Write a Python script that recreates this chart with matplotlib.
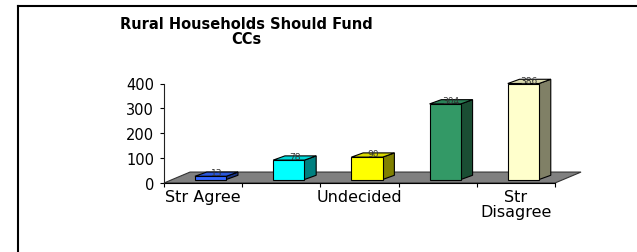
import numpy as np
import matplotlib

matplotlib.use("Agg")
import matplotlib.pyplot as plt
from matplotlib.patches import Polygon
from matplotlib.lines import Line2D

categories = ["Str Agree", "Agree", "Undecided", "Disagree", "Str Disagree"]
values = [13, 78, 90, 304, 386]
shown_labels = ["Str Agree", "", "Undecided", "", "Str\nDisagree"]
front_colors = ["#3366FF", "#00FFFF", "#FFFF00", "#339966", "#FFFFCC"]
y_ticks = [0, 100, 200, 300, 400]
title = "Rural Households Should Fund\nCCs"


def shade(color, factor):
    rgb = np.array(matplotlib.colors.to_rgb(color))
    return tuple(rgb * factor)


def draw_floor(ax, n, depth_x, depth_y):
    pts = [
        (-0.5, 0),
        (n - 0.5, 0),
        (n - 0.5 + depth_x, depth_y),
        (-0.5 + depth_x, depth_y),
    ]
    ax.add_patch(
        Polygon(pts, closed=True, facecolor="#808080", edgecolor="#333333",
                lw=0.8, clip_on=False, zorder=1)
    )


def draw_bar(ax, x, v, color, width, base, dx, dy):
    x0 = x - width / 2
    x1 = x + width / 2
    top = base + v
    front = [(x0, base), (x1, base), (x1, top), (x0, top)]
    side = [(x1, base), (x1 + dx, base + dy), (x1 + dx, top + dy), (x1, top)]
    cap = [(x0, top), (x1, top), (x1 + dx, top + dy), (x0 + dx, top + dy)]
    kw = dict(closed=True, edgecolor="black", lw=0.8, clip_on=False, zorder=3)
    ax.add_patch(Polygon(side, facecolor=shade(color, 0.5), **kw))
    ax.add_patch(Polygon(cap, facecolor=shade(color, 0.85), **kw))
    ax.add_patch(Polygon(front, facecolor=color, **kw))
    ax.text(x + dx / 2, top + dy * 0.8, str(v), ha="center", va="center",
            fontsize=6.5, color="#333333", zorder=4, clip_on=False)


fig = plt.figure(figsize=(6.37, 2.53), dpi=100)
plt.rcParams["font.family"] = ["DejaVu Sans"]

ax = fig.add_axes([164 / 637, 69 / 253, 391 / 637, 99.5 / 253])
ax.set_xlim(-0.5, len(categories) - 0.5)
ax.set_ylim(0, 400)

# floor depth and bar depth, in data units
floor_dx, floor_dy = 0.333, 44
bar_dx, bar_dy = 0.15, 17
shift_x, base_y = 0.096, 14

draw_floor(ax, len(categories), floor_dx, floor_dy)
for i, (v, c) in enumerate(zip(values, front_colors)):
    draw_bar(ax, i + shift_x, v, c, 0.40, base_y, bar_dx, bar_dy)

for side in ["top", "right"]:
    ax.spines[side].set_visible(False)
ax.spines["left"].set_color("#222222")
ax.spines["left"].set_linewidth(0.8)
ax.spines["bottom"].set_color("black")
ax.spines["bottom"].set_linewidth(0.8)
ax.spines["bottom"].set_zorder(2)

ax.set_yticks(y_ticks)
ax.set_yticklabels([str(t) for t in y_ticks], fontsize=10.5)
ax.tick_params(axis="y", direction="out", length=3, width=0.8, pad=4)

ax.set_xticks(range(len(categories)))
ax.set_xticklabels(shown_labels, fontsize=11.5, linespacing=1.0)
ax.set_xticks(np.arange(-0.5, len(categories) + 0.5, 1), minor=True)
ax.tick_params(axis="x", which="major", length=0, pad=4)
ax.tick_params(axis="x", which="minor", direction="out", length=3, width=0.8)

fig.text(246 / 637, 1 - 17 / 253, title, ha="center", va="top",
         fontsize=10.5, fontweight="bold", linespacing=1.0)

# chart frame (left and top edges)
fig.add_artist(Line2D([17.5 / 637, 17.5 / 637], [0, 1 - 6.5 / 253],
                      color="black", lw=1.5))
fig.add_artist(Line2D([17.5 / 637, 1], [1 - 6.5 / 253, 1 - 6.5 / 253],
                      color="black", lw=1.5))

fig.savefig("out.png", dpi=100)
